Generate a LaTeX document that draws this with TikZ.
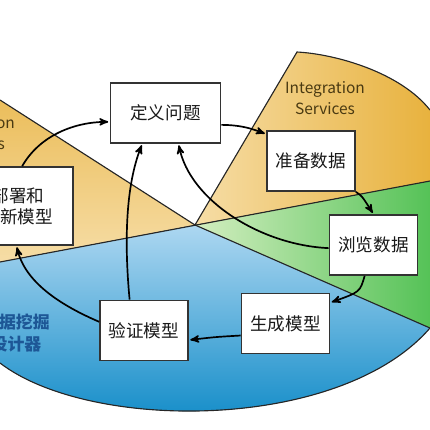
\documentclass[tikz,border=0pt]{standalone}
\usepackage{fontspec}
\setmainfont{Noto Sans CJK SC}
\usepackage{xcolor}
\usepackage{tikz}
\usetikzlibrary{arrows}
\definecolor{orangelight}{HTML}{F6DDA6}
\definecolor{orangedark}{HTML}{E8B23E}
\definecolor{greenlight}{HTML}{D3EEC0}
\definecolor{greendark}{HTML}{55C257}
\definecolor{bluelight}{HTML}{ADD7F1}
\definecolor{bluemid}{HTML}{52B0E2}
\definecolor{bluedark}{HTML}{0A88C6}
\definecolor{labelbrown}{HTML}{4A3A12}
\definecolor{labelblue}{HTML}{1D5796}
\definecolor{boxgray}{HTML}{333333}
\tikzset {
  % white step boxes
  box/.style = {draw=boxgray, fill=white, line width=1.2pt, text=black!90,
    minimum width=2.2cm, minimum height=1.5cm, align=center,
    font=\fontsize{12.5}{15}\selectfont},
  wide/.style = {minimum width=2.75cm},
  % arrows between the steps
  flow/.style = {->, >=stealth', line width=1.2pt, shorten >=1pt},
  % lines between the coloured wedges
  rim/.style = {draw=black!85, line width=0.8pt},
  % tool names in the wedges
  tool/.style = {align=center, font=\fontsize{11}{14.5}\selectfont},
}
\begin{document}
\begin{tikzpicture}[x=0.025cm, y=-0.025cm]
      \useasboundingbox (0,0) rectangle (430,430);
      \begin{scope}[overlay]
      \clip (0,0) rectangle (430,430);
      \coordinate (c) at (195,225);

      % wedges
      \fill[top color=orangedark!85, bottom color=orangelight] (c) -- (0,100) -- (0,262) -- cycle;
      \fill[left color=orangelight, right color=orangedark] (c) -- (297,52) .. controls (335,54) and (400,72) .. (430,110) -- (430,181) -- cycle;
      \fill[left color=greenlight, right color=greendark] (c) -- (430,181) -- (430,328) -- cycle;
      \fill[top color=bluelight, middle color=bluemid, bottom color=bluedark] (c) -- (430,328) .. controls (340,432) and (90,432) .. (0,363) -- (0,262) -- cycle;

      \draw[rim] (0,100) -- (c) -- (297,52) .. controls (335,54) and (400,72) .. (430,110);
      \draw[rim] (0,262) -- (430,181);
      \draw[rim] (c) -- (430,328) .. controls (340,432) and (90,432) .. (0,363);

      \node[tool, text=labelbrown] (isright) at (325,98) {Integration\\Services};
      \node[tool, text=labelbrown] (isleft) at (-25,133) {Integration\\Services};
      \node[tool, text=labelblue, font=\fontsize{12}{15.5}\selectfont\bfseries] (designer) at (16,333) {数据挖掘\\设计器};

      % steps
      \node[box, wide] (define) at (165.5,113) {定义问题};
      \node[box] (prepare) at (311,161) {准备数据};
      \node[box] (explore) at (373.5,245) {浏览数据};
      \node[box] (build) at (285.5,323.5) {生成模型};
      \node[box] (validate) at (144,330.5) {验证模型};
      \node[box, wide, minimum height=1.95cm] (deploy) at (18,206) {部署和\\更新模型};

      \draw[flow] (deploy.84) .. controls (40,135) and (75,122) .. (define.189);
      \draw[flow] (define.348) .. controls (240,125) and (250,128) .. (prepare.149);
      \draw[flow] (prepare.south east) .. controls (362,196) .. (explore.north);
      \draw[flow] (explore.254) .. controls (360,292) .. (build.25);
      \draw[flow] (build.195) .. controls (215,337) .. (validate.348);
      \draw[flow] (validate.169) .. controls (60,305) and (25,282) .. (deploy.268);
      \draw[flow] (validate.115) .. controls (124,240) and (126,185) .. (define.233);
      \draw[flow] (explore.184) .. controls (260,245) and (190,200) .. (define.293);
      \end{scope}
    \end{tikzpicture}
\end{document}
